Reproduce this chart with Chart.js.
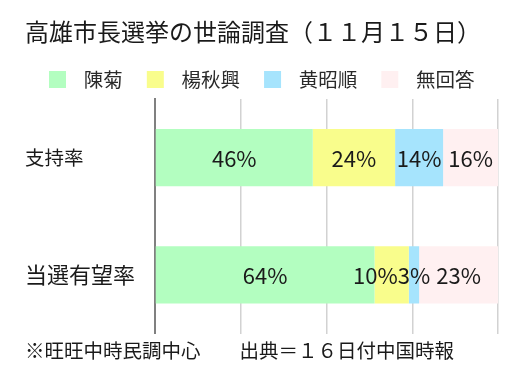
<!DOCTYPE html>
<html><head><meta charset="utf-8">
<script src="https://cdn.jsdelivr.net/npm/chart.js@4/dist/chart.umd.min.js"></script>
<style>html,body{margin:0;padding:0;background:#fff;}#wrap{width:530px;height:383px;}</style>
</head><body><div id="wrap"><canvas id="c" width="530" height="383"></canvas></div>
<script>
const categories = ['支持率', '当選有望率'];
const seriesNames = ['陳菊', '楊秋興', '黄昭順', '無回答'];
const chenJu = [46, 64];
const yangChiuHsing = [24, 10];
const huangChaoShun = [14, 3];
const noAnswer = [16, 23];
const xTicks = [0, 25, 50, 75, 100];
const titleText = '高雄市長選挙の世論調査（１１月１５日）';
const footerText = '※旺旺中時民調中心　　出典＝１６日付中国時報';
const colors = ['#b3fec0', '#f9fd8c', '#a6e4fd', '#fff0f1'];

const FONT = "'Noto Sans CJK JP', 'Noto Sans', sans-serif";

function makeSwatch(color) {
  const c = document.createElement('canvas');
  c.width = 39; c.height = 17;
  const g = c.getContext('2d');
  g.fillStyle = color;
  g.fillRect(13, 0, 17, 17);
  return c;
}
const swatches = colors.map(makeSwatch);

const segLabels = {
  id: 'segLabels',
  afterDatasetsDraw(chart) {
    const ctx = chart.ctx;
    ctx.save();
    ctx.font = '22px ' + FONT;
    ctx.fillStyle = '#1a1a1a';
    ctx.textBaseline = 'middle';
    ctx.textAlign = 'left';
    chart.data.labels.forEach((_, i) => {
      const items = chart.data.datasets.map((ds, d) => {
        const el = chart.getDatasetMeta(d).data[i];
        const p = el.getProps(['x', 'base', 'y'], true);
        const text = ds.data[i] + '%';
        const w = ctx.measureText(text).width;
        return {text, w, left: (p.x + p.base) / 2 - w / 2, y: p.y};
      });
      for (let k = items.length - 2; k >= 0; k--) {
        if (items[k].left + items[k].w > items[k + 1].left) items[k].left = items[k + 1].left - items[k].w;
      }
      items.forEach(it => ctx.fillText(it.text, it.left, it.y + 1));
    });
    ctx.restore();
  }
};

new Chart(document.getElementById('c'), {
  type: 'bar',
  data: {
    labels: categories,
    datasets: [chenJu, yangChiuHsing, huangChaoShun, noAnswer].map((vals, i) => ({
      label: seriesNames[i],
      data: vals,
      backgroundColor: colors[i],
      borderWidth: 0,
      barPercentage: 0.49,
      categoryPercentage: 1
    }))
  },
  options: {
    indexAxis: 'y',
    responsive: false,
    devicePixelRatio: 1,
    animation: false,
    layout: {padding: {left: 25, right: 32, top: 0, bottom: 0}},
    scales: {
      x: {
        stacked: true, min: 0, max: 100,
        afterBuildTicks: s => { s.ticks = xTicks.map(v => ({value: v})); },
        ticks: {display: false},
        grid: {color: '#d2d2d2', lineWidth: 1.5, drawTicks: false},
        border: {display: false}
      },
      y: {
        stacked: true,
        grid: {display: false, drawTicks: false},
        border: {display: true, color: '#808080', width: 2},
        ticks: {
          crossAlign: 'far', color: '#1a1a1a', padding: 0,
          font: c => ({family: FONT, size: c.index === 1 ? 22 : 19.5})
        },
        afterFit: s => { s.width = 130; }
      }
    },
    plugins: {
      title: {
        display: true, text: titleText, align: 'start', color: '#1a1a1a',
        font: {family: FONT, size: 24, weight: 'normal'},
        padding: {top: 17.6, bottom: 11.1}
      },
      subtitle: {
        display: true, text: footerText, position: 'bottom', align: 'start', color: '#1a1a1a',
        font: {family: FONT, size: 19.5, weight: 'normal'},
        padding: {top: 5.3, bottom: 20.8}
      },
      legend: {
        display: true, position: 'top', align: 'start',
        labels: {
          usePointStyle: true, pointStyleWidth: 37, padding: 12, color: '#2a2a2a',
          font: {family: FONT, size: 19.5},
          generateLabels: chart => chart.data.datasets.map((ds, i) => ({
            text: ds.label, fillStyle: ds.backgroundColor, strokeStyle: ds.backgroundColor,
            lineWidth: 0, pointStyle: swatches[i], datasetIndex: i, hidden: false, fontColor: '#2a2a2a'
          }))
        }
      },
      tooltip: {enabled: false}
    }
  },
  plugins: [segLabels]
});
</script>
</body></html>
